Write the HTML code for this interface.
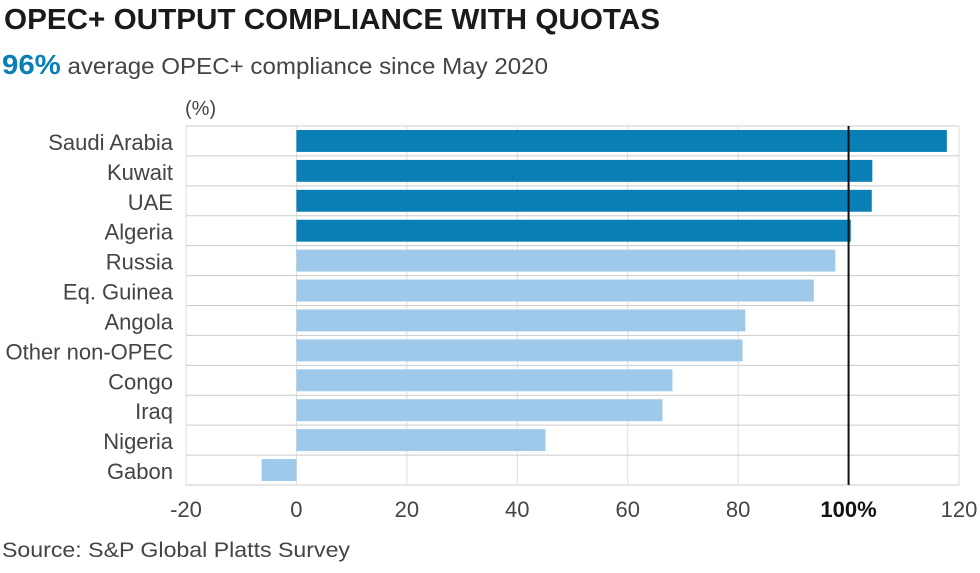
<!DOCTYPE html>
<html><head><meta charset="utf-8"><style>
body{margin:0;background:#fff;width:980px;height:568px;overflow:hidden;font-family:"Liberation Sans",sans-serif}
</style></head><body>
<svg width="980" height="568" id="c">
<text x="4" y="29" font-size="29" font-weight="bold" fill="#1a1a1a" textLength="656" lengthAdjust="spacingAndGlyphs">OPEC+ OUTPUT COMPLIANCE WITH QUOTAS</text>
<text x="2" y="74" font-size="23" fill="#444" textLength="546" lengthAdjust="spacingAndGlyphs"><tspan font-size="28" font-weight="bold" fill="#0a7fb5">96%</tspan> average OPEC+ compliance since May 2020</text>
<text x="185" y="115" font-size="20" fill="#444">(%)</text>
<text x="2" y="557" font-size="21" fill="#444" textLength="348" lengthAdjust="spacingAndGlyphs">Source: S&amp;P Global Platts Survey</text>
<g id="g"></g>
</svg>
<script>
const categories=["Saudi Arabia","Kuwait","UAE","Algeria","Russia","Eq. Guinea","Angola","Other non-OPEC","Congo","Iraq","Nigeria","Gabon"];
const values=[117.8,104.3,104.2,100.4,97.6,93.7,81.3,80.8,68.1,66.3,45.1,-6.3];
const highlighted=[1,1,1,1,0,0,0,0,0,0,0,0];
const ticks=[-20,0,20,40,60,80,100,120];
const tickLabels=["-20","0","20","40","60","80","100%","120"];
const ns="http://www.w3.org/2000/svg",g=document.getElementById('g');
const X0=186,X1=959,T=126,B=485,rh=(B-T)/categories.length;
const x=v=>X0+(v+20)/140*(X1-X0);
function el(t,a,txt){const e=document.createElementNS(ns,t);for(const k in a)e.setAttribute(k,a[k]);if(txt!=null)e.textContent=txt;g.appendChild(e);return e;}
let r=el('rect',{x:X0,y:T,width:X1-X0,height:B-T,fill:'#fff',stroke:'#ccc'});


ticks.forEach((t,i)=>{
  let l=el('line',{x1:x(t),x2:x(t),y1:T,y2:B,stroke:'#ddd'});
  
  
  let tx=el('text',{x:x(t),y:517,'font-size':22,fill:t===100?'#111':'#444','font-weight':t===100?'bold':'normal','text-anchor':'middle'},tickLabels[i]);
  
  
});
categories.forEach((c,i)=>{
  const y0=T+i*rh;
  if(i>0){let l=el('line',{x1:X0,x2:X1,y1:y0,y2:y0,stroke:'#ccc'});
    
    }
  const v=values[i],a=Math.min(x(0),x(v)),w=Math.abs(x(v)-x(0));
  let b=el('rect',{x:a,y:y0+4,width:w,height:rh-8,fill:highlighted[i]?'#0a7fb5':'#9ec9ea'});
  
  
  let t=el('text',{x:173,y:y0+rh/2+9,'font-size':22,fill:'#444','text-anchor':'end'},c);
  
  
});
let ref=el('line',{x1:x(100),x2:x(100),y1:T,y2:B,stroke:'#111','stroke-width':2});


</script>
</body></html>
